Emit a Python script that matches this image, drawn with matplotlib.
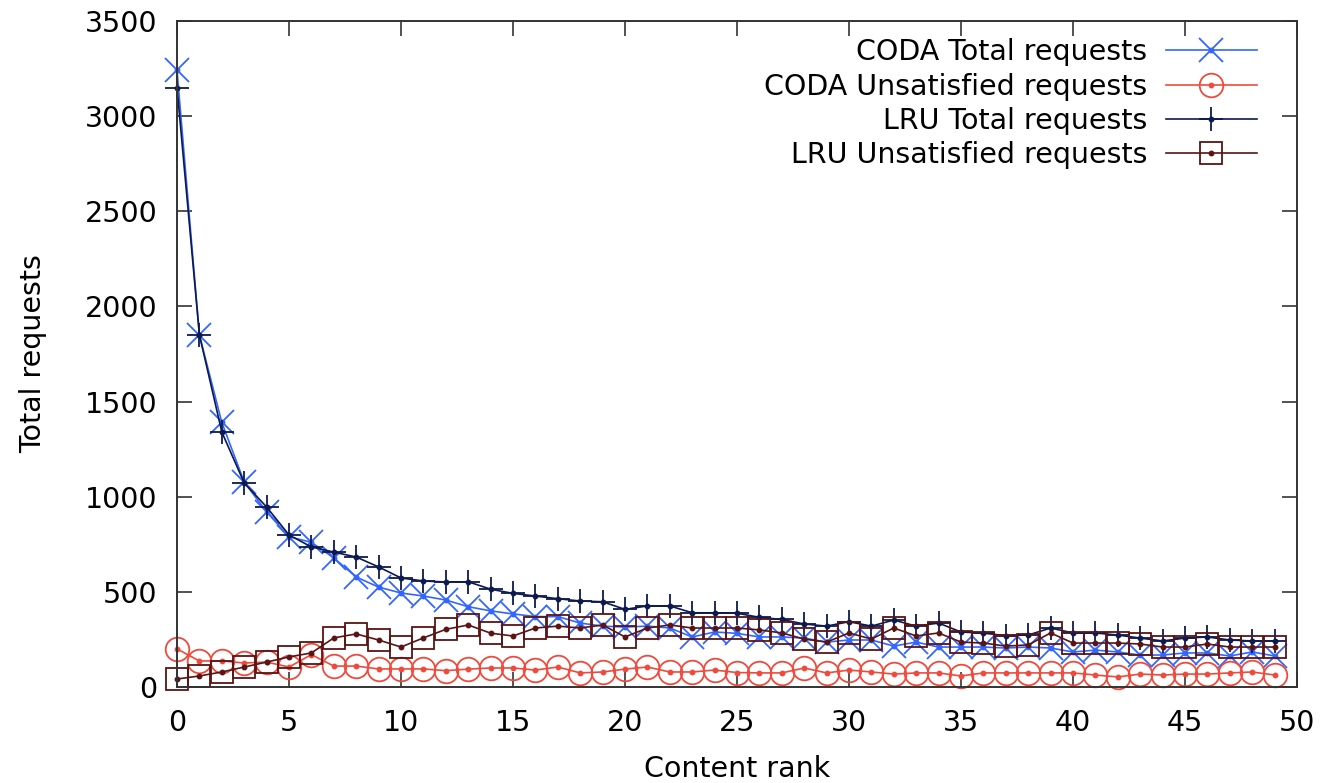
import numpy as np
import matplotlib.pyplot as plt

rank = np.arange(50)

coda_total = [3240, 1850, 1390, 1077, 920, 790, 760, 678, 578, 525,
              494, 478, 457, 422, 400, 384, 370, 370, 336, 320,
              315, 320, 310, 263, 289, 282, 263, 263, 257, 236,
              247, 247, 215, 236, 210, 210, 210, 205, 210, 205,
              184, 194, 184, 168, 168, 179, 179, 163, 184, 163]
coda_unsat = [200, 137, 137, 126, 131, 105, 170, 110, 110, 95,
              95, 95, 86, 94, 100, 100, 89, 105, 74, 79,
              94, 105, 79, 79, 89, 76, 74, 74, 100, 74,
              89, 79, 68, 74, 74, 58, 74, 74, 74, 74,
              74, 63, 53, 68, 63, 68, 68, 74, 79, 63]
lru_total = [3150, 1850, 1340, 1072, 946, 799, 736, 709, 683, 631,
             573, 557, 552, 553, 514, 492, 478, 464, 452, 448,
             408, 426, 426, 390, 390, 388, 366, 355, 331, 320,
             343, 320, 352, 320, 336, 289, 283, 270, 273, 310,
             284, 284, 273, 257, 242, 257, 263, 247, 242, 242]
lru_unsat = [42, 58, 79, 105, 131, 158, 179, 258, 279, 247,
             210, 258, 303, 326, 283, 268, 310, 320, 310, 326,
             263, 310, 326, 310, 310, 310, 300, 284, 252, 236,
             284, 252, 310, 268, 284, 236, 231, 215, 221, 284,
             231, 231, 231, 226, 210, 210, 226, 210, 210, 210]

labels = ["CODA Total requests", "CODA Unsatisfied requests",
          "LRU Total requests", "LRU Unsatisfied requests"]

plt.rcParams["font.family"] = "DejaVu Sans"

fig = plt.figure(figsize=(13.24, 7.83), dpi=100)
ax = fig.add_axes([0.1337, 0.1226, 0.8459, 0.8506])

series = [
    (coda_total, "#3366ff", "x", 17),
    (coda_unsat, "#f04a3c", "o", 17),
    (lru_total, "#0c1a4f", "+", 17),
    (lru_unsat, "#5a1414", "s", 16),
]

handles = []
for (vals, col, mk, ms), lab in zip(series, labels):
    big, = ax.plot(rank, vals, color=col, lw=1.2, marker=mk, ms=ms,
                   mfc="none", mec=col, mew=1.3, clip_on=False)
    dot, = ax.plot(rank, vals, ls="none", marker="o", ms=3.2,
                   color=col, clip_on=False)
    handles.append((big, dot))

ax.set_xlim(0, 50)
ax.set_ylim(0, 3500)
ax.set_xticks(np.arange(0, 51, 5))
ax.set_yticks(np.arange(0, 3501, 500))

ax.tick_params(direction="in", length=11, width=1.2, labelsize=20.5,
               top=True, right=True, color="#333333")
ax.tick_params(axis="x", pad=16)
ax.tick_params(axis="y", pad=14)
for s in ax.spines.values():
    s.set_color("#333333")
    s.set_linewidth(1.4)

ax.set_xlabel("Content rank", fontsize=20.5, labelpad=13)
ax.set_ylabel("Total requests", fontsize=20.5, labelpad=27)

ax.legend(handles, labels, loc="upper right", frameon=False,
          markerfirst=False, fontsize=20.5, handlelength=3.2,
          labelspacing=0.22, borderaxespad=0.3, handletextpad=0.65,
          bbox_to_anchor=(0.982, 1.004))

fig.savefig("out.png", dpi=100)
